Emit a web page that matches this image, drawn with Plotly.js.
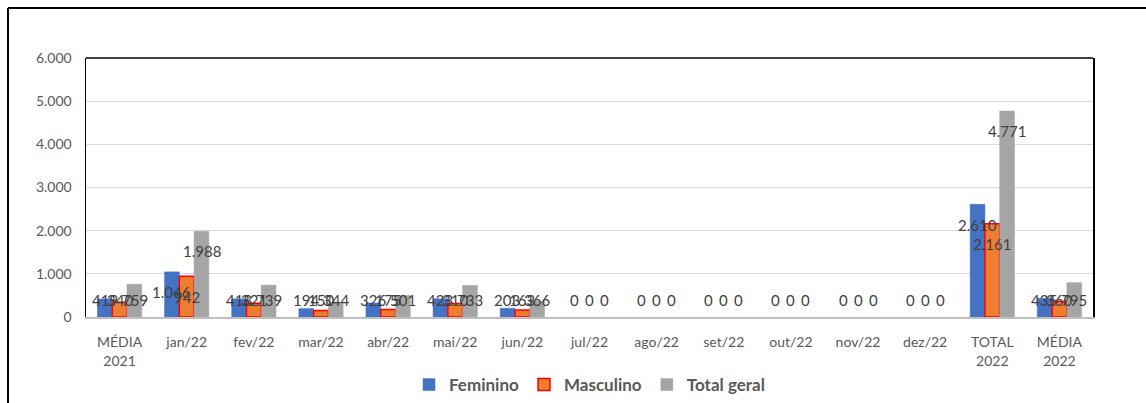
<!DOCTYPE html>
<html><head><meta charset="utf-8">
<script src="https://cdn.plot.ly/plotly-3.0.1.min.js"></script>
<style>html,body{margin:0;padding:0;background:#fff}#chart{width:1146px;height:403px}</style>
</head><body><div id="chart"></div>
<script>
const categories = ["MÉDIA<br>2021","jan/22","fev/22","mar/22","abr/22","mai/22","jun/22","jul/22","ago/22","set/22","out/22","nov/22","dez/22","TOTAL<br>2022","MÉDIA<br>2022"];
const feminino  = [419,1046,418,194,326,423,203,0,0,0,0,0,0,2610,435];
const masculino = [340,942,321,150,175,310,163,0,0,0,0,0,0,2161,360];
const totalGeral= [759,1988,739,344,501,733,366,0,0,0,0,0,0,4771,795];
const yTicks = [0,1000,2000,3000,4000,5000,6000];

function fmt(v){return String(v).replace(/\B(?=(\d{3})+(?!\d))/g,'.');}

const series = [
  {name:'Feminino', y:feminino, color:'#4472C4', line:'#4472C4', lw:0.5, shift:-15},
  {name:'Masculino', y:masculino, color:'#ED7D31', line:'#FF0000', lw:1.5, shift:0},
  {name:'Total geral', y:totalGeral, color:'#A5A5A5', line:'#A5A5A5', lw:0.5, shift:15}
];
const traces = series.map(s=>({
  type:'bar', name:s.name, x:categories, y:s.y,
  marker:{color:s.color, line:{color:s.line, width: s.y.map(v=>v>0?s.lw:0)}},
  hoverinfo:'none'
}));
const annotations = [];
series.forEach(s=>{
  s.y.forEach((v,i)=>{
    annotations.push({x:categories[i], y:Math.max(v-470,400), xref:'x', yref:'y',
      text:fmt(v), showarrow:false, xshift:s.shift,
      font:{family:'Lato, Carlito, Calibri, sans-serif', size:15, color:'#404040'}});
  });
});
const layout = {
  width:1146, height:403,
  margin:{l:86, r:53, t:58, b:86, autoexpand:false},
  paper_bgcolor:'#fff', plot_bgcolor:'#fff',
  separators:',.',
  barmode:'group', bargap:0.34, bargroupgap:0,
  font:{family:'Lato, Carlito, Calibri, sans-serif', color:'#595959'},
  xaxis:{type:'category', showline:true, linecolor:'#BFBFBF', linewidth:1.5, ticks:'', showgrid:false,
    tickfont:{size:14, color:'#595959'}, ticklabelstandoff:12, fixedrange:true},
  yaxis:{range:[0,6000], tickvals:yTicks, ticktext:yTicks.map(fmt), showgrid:true, gridcolor:'#D9D9D9', gridwidth:1,
    showline:true, linecolor:'#000', linewidth:1.5, mirror:true, zeroline:false, ticks:'',
    tickfont:{size:14, color:'#595959'}, ticklabelstandoff:10},
  legend:{orientation:'h', x:0.5, xanchor:'center', yref:'container', y:1-367/403, yanchor:'top',
    font:{size:17, color:'#595959', weight:'bold'}, itemwidth:30, traceorder:'normal'},
  annotations:annotations,
  shapes:[
    {type:'line', xref:'paper', yref:'paper', x0:0, x1:1, y0:1, y1:1, line:{color:'#000', width:1.5}},
    {type:'line', xref:'paper', yref:'paper', x0:(8-86)/1007, x1:(8-86)/1007, y0:(317-8)/259, y1:(317-405)/259, line:{color:'#000', width:2}},
    {type:'line', xref:'paper', yref:'paper', x0:(8-86)/1007, x1:(1150-86)/1007, y0:(317-8)/259, y1:(317-8)/259, line:{color:'#000', width:2}}
  ]
};
Plotly.newPlot('chart', traces, layout, {displayModeBar:false, staticPlot:true});
</script></body></html>
